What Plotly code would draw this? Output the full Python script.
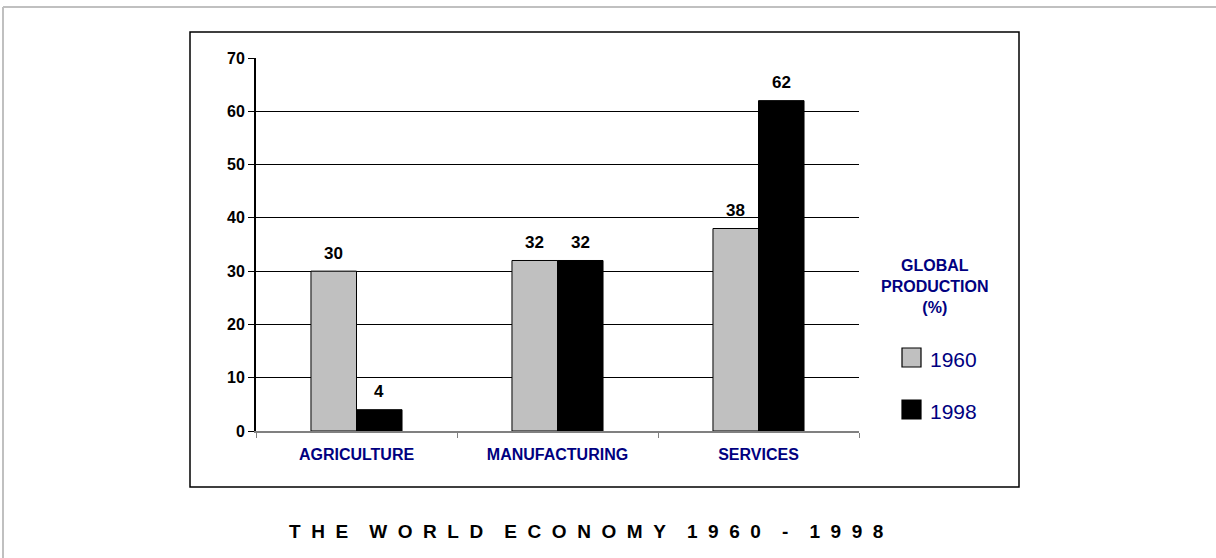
import plotly.graph_objects as go

categories = ["AGRICULTURE", "MANUFACTURING", "SERVICES"]
values_1960 = [30, 32, 38]
values_1998 = [4, 32, 62]
series_names = ["1960", "1998"]
y_ticks = [0, 10, 20, 30, 40, 50, 60, 70]
title_text = "THE WORLD ECONOMY 1960 - 1998"
legend_title = "GLOBAL<br>PRODUCTION<br>(%)"

FONT = "Arial, Liberation Sans, sans-serif"
NAVY = "#000080"
W, H = 1216, 558
L, R, T, B = 256, 859, 58, 431  # plot area in px
BARGAP = 0.547


def px(x):
    return (x - L) / (R - L)


def py(y):
    return (B - y) / (B - T)


fig = go.Figure()
fig.add_trace(go.Bar(
    x=categories, y=values_1960, name=series_names[0],
    marker=dict(color="#C0C0C0", line=dict(color="black", width=1)),
    showlegend=False,
))
fig.add_trace(go.Bar(
    x=categories, y=values_1998, name=series_names[1],
    marker=dict(color="#000000", line=dict(color="black", width=1)),
    showlegend=False,
))

# value labels above bars
cat_w = (R - L) / len(categories)
half = cat_w * (1 - BARGAP) / 4
for vals, sh in ((values_1960, -half), (values_1998, half)):
    for c, v in zip(categories, vals):
        fig.add_annotation(x=c, y=v, xref="x", yref="y", text=f"<b>{v}</b>",
                           showarrow=False, xshift=sh, yshift=18,
                           xanchor="center", yanchor="middle",
                           font=dict(family=FONT, size=17, color="black"))

fig.update_layout(
    width=W, height=H,
    margin=dict(l=L, r=W - R, t=T, b=H - B, pad=0),
    paper_bgcolor="white", plot_bgcolor="white",
    barmode="group", bargap=BARGAP, bargroupgap=0,
    font=dict(family=FONT, color="black"),
)
fig.update_yaxes(
    range=[0, 70], tickvals=y_ticks, ticktext=[f"<b>{v}</b>" for v in y_ticks],
    showgrid=True, gridcolor="black", gridwidth=1,
    showline=True, linecolor="black", linewidth=2,
    ticks="outside", ticklen=6, tickcolor="black",
    tickfont=dict(family=FONT, size=16, color="black"),
    zeroline=False,
)
fig.update_xaxes(
    tickvals=categories, ticktext=[f"<b>{c}</b>" for c in categories],
    tickson="boundaries", ticks="outside", ticklen=5, tickcolor="#808080",
    showline=True, linecolor="#808080", linewidth=1.5,
    tickfont=dict(family=FONT, size=16, color=NAVY),
    ticklabelstandoff=8,
    showgrid=False,
)

# outer page border (gray) and chart box (black)
fig.add_shape(type="line", xref="paper", yref="paper",
              x0=px(3), x1=px(1216), y0=py(7), y1=py(7),
              line=dict(color="#C0C0C0", width=2))
fig.add_shape(type="line", xref="paper", yref="paper",
              x0=px(3), x1=px(3), y0=py(7), y1=py(558),
              line=dict(color="#C0C0C0", width=2))
fig.add_shape(type="rect", xref="paper", yref="paper",
              x0=px(190), x1=px(1019), y0=py(32), y1=py(487),
              line=dict(color="black", width=1.5))

# legend
fig.add_annotation(xref="paper", yref="paper", x=px(935), y=py(286),
                   text="<b>" + legend_title + "</b>", showarrow=False,
                   font=dict(family=FONT, size=16, color=NAVY),
                   xanchor="center", yanchor="middle", align="center")
leg_colors = ["#C0C0C0", "#000000"]
leg_y = [358, 410]
for name, col, yy in zip(series_names, leg_colors, leg_y):
    fig.add_shape(type="rect", xref="paper", yref="paper",
                  x0=px(902), x1=px(921), y0=py(yy - 10), y1=py(yy + 9),
                  fillcolor=col, line=dict(color="black", width=1.2))
    fig.add_annotation(xref="paper", yref="paper", x=px(928), y=py(yy + 1),
                       text=name, showarrow=False,
                       font=dict(family=FONT, size=21, color=NAVY),
                       xanchor="left", yanchor="middle")

# spaced title
NB = "\u00a0"
words = title_text.split(" ")
spaced = (NB * 4).join((NB * 2).join(list(w)) for w in words)
fig.add_annotation(xref="paper", yref="paper", x=px(586), y=py(531),
                   text="<b>" + spaced + "</b>", showarrow=False,
                   font=dict(family=FONT, size=19, color="black"),
                   xanchor="center", yanchor="middle")

fig.write_html("out.html")
